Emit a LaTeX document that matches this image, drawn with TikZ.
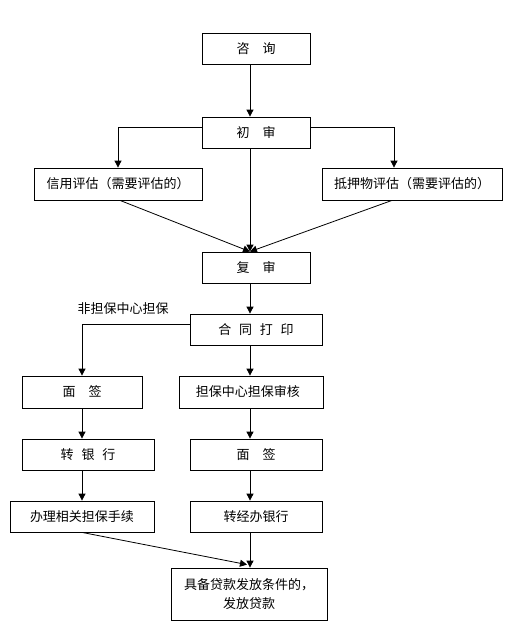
\documentclass[tikz,border=0pt]{standalone}
\usepackage{fontspec}
\setmainfont{Noto Sans CJK SC}
\usetikzlibrary{arrows.meta,calc}
\definecolor{xian}{HTML}{000000}
\tikzset{
  kuang/.style={rectangle, draw=xian, line width=0.8pt, fill=white, align=center,
    minimum height=31pt, inner sep=2pt},
  jiantou/.style={-{Triangle[length=7pt,width=7pt]}, line width=0.8pt, draw=xian},
  xianduan/.style={line width=0.8pt, draw=xian},
}

\begin{document}
\begin{tikzpicture}[x=1pt, y=-1pt, font=\fontsize{13}{19}\selectfont]
    \useasboundingbox (0,0) rectangle (510,632);
    % upper part
    \node[kuang, minimum width=108pt] (zixun) at (256,48.5) {咨\quad 询};
    \node[kuang, minimum width=108pt] (chushen) at (256,132.5) {初\quad 审};
    \node[kuang, minimum width=168pt, minimum height=32pt] (xinyong) at (118,184) {信用评估（需要评估的）};
    \node[kuang, minimum width=180pt, minimum height=32pt] (diya) at (412,184) {抵押物评估（需要评估的）};
    \node[kuang, minimum width=108pt] (fushen) at (256,267.5) {复\quad 审};
    \node[kuang, minimum width=132pt] (hetong) at (256,329.5) {合\hspace{0.6em}同\hspace{0.6em}打\hspace{0.6em}印};
    \node (feidanbao) at (123,309) {非担保中心担保};
    % two branches
    \node[kuang, minimum width=120pt, minimum height=32pt] (mianqian1) at (82,392) {面\quad 签};
    \node[kuang, minimum width=144pt, minimum height=32pt] (danbao) at (251,392) {担保中心担保审核\hspace{0.5em}};
    \node[kuang, minimum width=132pt] (zhuanyh) at (88,454.5) {转\hspace{0.6em}银\hspace{0.6em}行};
    \node[kuang, minimum width=132pt] (mianqian2) at (256,454.5) {面\quad 签};
    \node[kuang, minimum width=144pt] (banli) at (82,516.5) {办理相关担保手续};
    \node[kuang, minimum width=132pt] (zhuanjb) at (256,516.5) {转经办银行};
    \node[kuang, minimum width=156pt, minimum height=52pt] (fafang) at (249,594) {具备贷款发放条件的，\\发放贷款};
    % connectors
    \coordinate (hui) at ([xshift=-6pt]fushen.north);
    \draw[jiantou] (zixun.south -| hui) -- (chushen.north -| hui);
    \draw[jiantou] ([yshift=5pt]chushen.west) -| (xinyong.north);
    \draw[jiantou] ([yshift=5pt]chushen.east) -| ([xshift=-18pt]diya.north);
    \draw[jiantou] (chushen.south -| hui) -- (hui);
    \draw[jiantou] ([xshift=2pt]xinyong.south) -- (hui);
    \draw[jiantou] ([xshift=-20pt]diya.south) -- (hui);
    \draw[jiantou] (fushen.south -| hui) -- (hetong.north -| hui);
    \draw[jiantou] ([yshift=5pt]hetong.west) -| (mianqian1.north);
    \draw[jiantou] (hetong.south -| hui) -- (danbao.north -| hui);
    \draw[jiantou] (mianqian1.south) -- (mianqian1.south |- zhuanyh.north);
    \draw[jiantou] (banli.north |- zhuanyh.south) -- (banli.north);
    \draw[jiantou] (danbao.south -| hui) -- (mianqian2.north -| hui);
    \draw[jiantou] (mianqian2.south -| hui) -- (zhuanjb.north -| hui);
    \draw[jiantou] (banli.south) -- ([shift={(-2pt,3pt)}]fafang.north);
    \draw[jiantou] (zhuanjb.south -| hui) -- (fafang.north -| hui);
\end{tikzpicture}
\end{document}
